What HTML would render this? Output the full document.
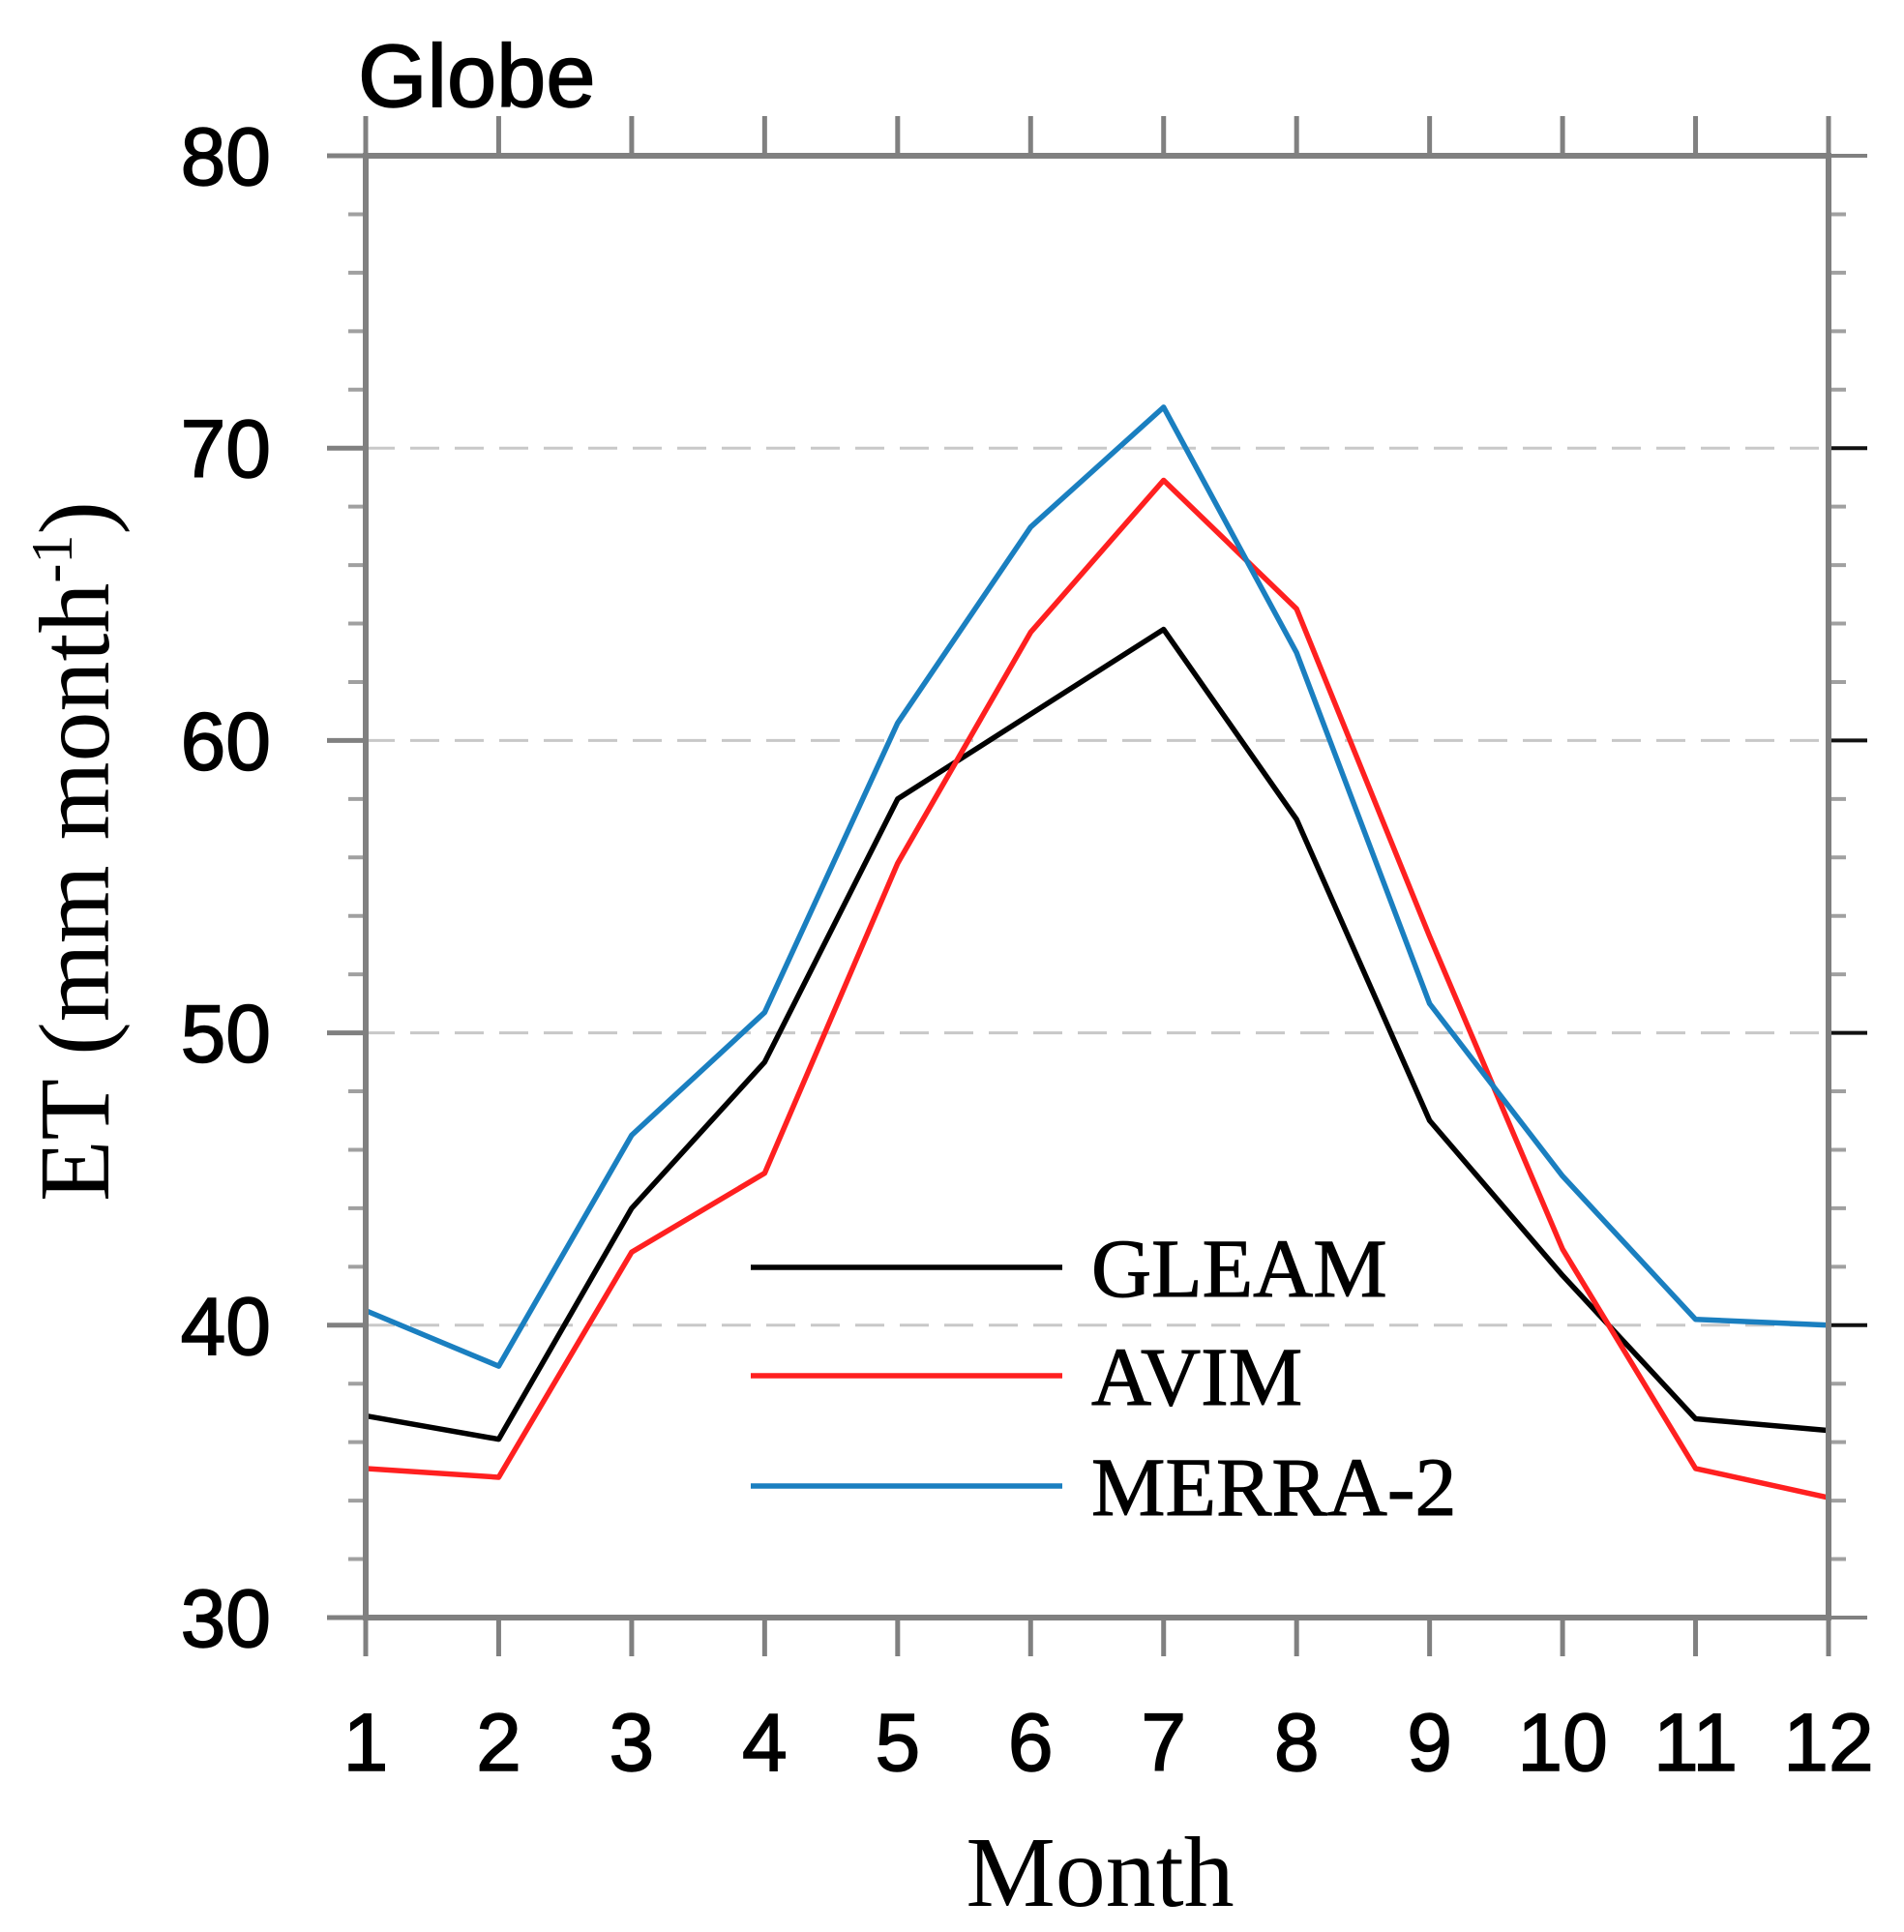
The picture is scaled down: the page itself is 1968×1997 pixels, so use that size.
<!DOCTYPE html>
<html><head><meta charset="utf-8"><style>
html,body{margin:0;padding:0;background:#fff;}
svg{display:block;}
</style></head><body>
<svg id="chart" width="1968" height="1997" viewBox="0 0 1968 1997" xmlns="http://www.w3.org/2000/svg">
<g id="grid"></g>
<g id="series"></g>
<g id="axes"></g>
<text x="370" y="110" font-family="Liberation Sans, sans-serif" font-size="92" stroke="#000" stroke-width="1.5">Globe</text>
<text x="1137" y="1970" text-anchor="middle" font-family="Liberation Serif, serif" font-size="104">Month</text>
<text transform="translate(112,880) rotate(-90)" text-anchor="middle" font-family="Liberation Serif, serif" font-size="104">ET (mm month<tspan font-size="60" dy="-38">-1</tspan><tspan dy="38">)</tspan></text>
<g id="legend"></g>
</svg>
<script>
const months = [1,2,3,4,5,6,7,8,9,10,11,12];
const gleam = [36.9,36.1,44.0,49.0,58.0,60.9,63.8,57.3,47.0,41.7,36.8,36.4];
const avim = [35.1,34.8,42.5,45.2,55.8,63.7,68.9,64.5,53.3,42.6,35.1,34.1];
const merra = [40.5,38.6,46.5,50.7,60.6,67.3,71.4,63.0,51.0,45.1,40.2,40.0];
const yTicks = [30,40,50,60,70,80];
const seriesNames = ["GLEAM","AVIM","MERRA-2"];

const NS="http://www.w3.org/2000/svg";
const L=378,R=1890,T=161,B=1672,yMin=30,yMax=80;
const xs=m=>L+(m-1)*(R-L)/11;
const ys=v=>B-(v-yMin)*(B-T)/(yMax-yMin);
function mk(tag,attrs,parent){const e=document.createElementNS(NS,tag);for(const k in attrs)e.setAttribute(k,attrs[k]);parent.appendChild(e);return e;}
const grid=document.getElementById('grid'),axes=document.getElementById('axes'),ser=document.getElementById('series'),leg=document.getElementById('legend');
const gray="#808080";
yTicks.forEach(v=>{
  if(v>yMin&&v<yMax){const g=mk('line',{x1:L,x2:R,y1:ys(v),y2:ys(v),stroke:"#c8c8c8","stroke-width":3,"stroke-dasharray":"30 16"},grid);
  
  }
  const t=mk('text',{x:280,y:ys(v)+30,"text-anchor":"end","font-family":"Liberation Sans, sans-serif","font-size":84,stroke:"#000","stroke-width":1.5},axes);
  t.textContent=v;
  
  
  mk('line',{x1:338,x2:L,y1:ys(v),y2:ys(v),stroke:gray,"stroke-width":5},axes);
  mk('line',{x1:R,x2:1930,y1:ys(v),y2:ys(v),stroke:(v>yMin&&v<yMax)?"#111":gray,"stroke-width":4},axes);
});
for(let v=yMin+2;v<yMax;v+=2){ if(v%10===0)continue;
  mk('line',{x1:360,x2:L,y1:ys(v),y2:ys(v),stroke:"#a0a0a0","stroke-width":4},axes);
  mk('line',{x1:R,x2:1908,y1:ys(v),y2:ys(v),stroke:"#a0a0a0","stroke-width":4},axes);
}
months.forEach(m=>{
  mk('line',{x1:xs(m),x2:xs(m),y1:120,y2:T,stroke:gray,"stroke-width":5},axes);
  mk('line',{x1:xs(m),x2:xs(m),y1:B,y2:1712,stroke:gray,"stroke-width":5},axes);
  const t=mk('text',{x:xs(m),y:1830,"text-anchor":"middle","font-family":"Liberation Sans, sans-serif","font-size":84,stroke:"#000","stroke-width":1.5},axes);
  t.textContent=m;
  
  
});
const frame=mk('rect',{x:L,y:T,width:R-L,height:B-T,fill:"none",stroke:gray,"stroke-width":6},axes);


const data=[gleam,avim,merra],colors=["#000000","#ff2020","#1a7fc0"];
data.forEach((d,i)=>{
  const p=mk('polyline',{points:d.map((v,j)=>xs(months[j])+","+ys(v)).join(" "),fill:"none",stroke:colors[i],"stroke-width":5.5,"stroke-linejoin":"round"},ser);
  
  
  const ly=[1310,1422,1536][i];
  const ll=mk('line',{x1:776,x2:1098,y1:ly,y2:ly,stroke:colors[i],"stroke-width":5.5},leg);
  
  
  const lt=mk('text',{x:1128,y:ly+30,"font-family":"Liberation Serif, serif","font-size":86,stroke:"#000","stroke-width":1},leg);
  lt.textContent=seriesNames[i];
  
  
});
</script>
</body></html>
